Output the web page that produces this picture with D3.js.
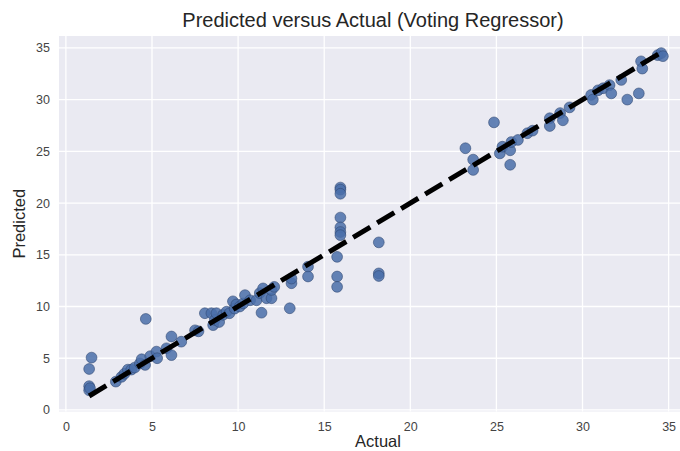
<!DOCTYPE html>
<html>
<head>
  <title>Predicted versus Actual</title>
  <style>
    body { margin: 0; background: #fff; }
    text { font-family: "Liberation Sans", Arial, sans-serif; }
  </style>
</head>
<body>

  <script src="https://cdn.jsdelivr.net/npm/d3@7/dist/d3.min.js" charset="utf-8"></script>
  <script type="text/javascript">

  // values
  var actual = [
    1.49, 1.35, 1.35, 1.35, 1.40, 2.9, 3.23, 3.4, 3.6, 3.8, 4.0, 4.3, 4.4, 4.6, 4.64, 4.9,
    5.26, 5.3, 5.84, 6.13, 6.13, 6.7, 7.5, 7.7, 8.07, 8.45, 8.55, 8.65, 8.74, 8.9,
    9.13, 9.33, 9.5, 9.7, 9.8, 9.9, 10.1, 10.3, 10.4, 10.7, 11.07, 11.26, 11.36, 11.45,
    11.65, 11.94, 11.94, 12.1, 13.0, 13.1, 13.1, 14.06, 14.06,
    15.75, 15.75, 15.75, 15.94, 15.94, 15.94, 15.94, 15.94, 15.94, 15.94,
    18.17, 18.17, 18.17,
    23.2, 23.65, 23.65, 24.86, 25.2, 25.35, 25.8, 25.87, 25.8, 26.25, 26.8, 27.1,
    28.1, 28.1, 28.7, 28.86, 29.25, 30.5, 30.6, 30.9, 31.2, 31.57, 31.67, 32.25,
    32.6, 33.27, 33.4, 33.47, 34.37, 34.57, 34.67
  ];

  var predicted = [
    5.06, 3.96, 2.3, 1.9, 2.1, 2.74, 3.2, 3.5, 3.9, 3.9, 4.1, 4.5, 4.9, 4.35, 8.8, 5.2,
    5.64, 5.0, 5.96, 7.1, 5.3, 6.6, 7.7, 7.6, 9.35, 9.35, 8.2, 8.7, 9.35, 8.5,
    9.2, 9.5, 9.35, 10.5, 9.8, 10.2, 10.0, 10.3, 11.1, 10.6, 10.6, 11.3, 9.4, 11.75,
    10.8, 10.8, 11.6, 11.9, 9.83, 12.25, 12.7, 13.85, 12.9,
    14.8, 12.9, 11.9, 21.5, 21.3, 20.9, 18.6, 17.65, 17.2, 16.9,
    16.2, 13.2, 12.95,
    25.3, 24.2, 23.2, 27.8, 24.8, 25.45, 25.1, 25.9, 23.7, 26.1, 26.75, 27.0,
    28.2, 27.45, 28.7, 28.0, 29.25, 30.45, 30.0, 30.9, 31.1, 31.4, 30.6, 31.9,
    30.0, 30.6, 33.7, 33.0, 34.3, 34.5, 34.2
  ];

  var ticks = [0, 5, 10, 15, 20, 25, 30, 35];

  // note: "top" is taken by window.top, so plot edges get their own names
  var width = 680,
      height = 451,
      pL = 59, pR = 691, pT = 36, pB = 411.5,

      svg = d3.select('body')
              .append('svg')
              .attr('width', width)
              .attr('height', height),

      x = d3.scaleLinear().domain([-0.4, 36.3]).range([pL, pR]),
      y = d3.scaleLinear().domain([-0.15, 36.15]).range([pB, pT]);

  var points = actual.map(function(a, i){ return {a: a, p: predicted[i]} });

  // axes background
  svg.append('rect')
     .attr('x', pL)
     .attr('y', pT)
     .attr('width', pR - pL)
     .attr('height', pB - pT)
     .attr('fill', '#eaeaf2');

  // grid
  svg.selectAll('line.vgrid')
     .data(ticks)
     .enter()
     .append('line')
     .attr('class', 'vgrid')
     .attr('x1', x).attr('x2', x)
     .attr('y1', pT).attr('y2', pB)
     .attr('stroke', '#fff')
     .attr('stroke-width', 1.3);

  svg.selectAll('line.hgrid')
     .data(ticks)
     .enter()
     .append('line')
     .attr('class', 'hgrid')
     .attr('y1', y).attr('y2', y)
     .attr('x1', pL).attr('x2', pR)
     .attr('stroke', '#fff')
     .attr('stroke-width', 1.3);

  // tick labels
  var xAxis = svg.append('g')
     .attr('transform', 'translate(0,' + (pB + 2) + ')')
     .call(d3.axisBottom(x).tickValues(ticks).tickSize(0).tickPadding(9));

  var yAxis = svg.append('g')
     .attr('transform', 'translate(' + (pL - 2) + ',0)')
     .call(d3.axisLeft(y).tickValues(ticks).tickSize(0).tickPadding(7));

  [xAxis, yAxis].forEach(function(g){
    g.select('.domain').remove();
    g.selectAll('text')
     .attr('fill', '#444')
     .style('font-size', '12.5px')
     .style('font-family', '"Liberation Sans", Arial, sans-serif');
  });

  // points
  svg.append('g')
     .selectAll('circle')
     .data(points)
     .enter()
     .append('circle')
     .attr('cx', function(d){ return x(d.a) })
     .attr('cy', function(d){ return y(d.p) })
     .attr('r', 5.4)
     .attr('fill', '#4a6ea9')
     .attr('fill-opacity', 0.85)
     .attr('stroke', '#2e4670')
     .attr('stroke-opacity', 0.7)
     .attr('stroke-width', 0.8);

  // perfect-fit line, min to max of actual
  var ext = d3.extent(actual);

  svg.append('line')
     .attr('x1', x(ext[0])).attr('y1', y(ext[0]))
     .attr('x2', x(ext[1])).attr('y2', y(ext[1]))
     .attr('stroke', '#000')
     .attr('stroke-width', 5)
     .attr('stroke-dasharray', '20,8');

  // labels
  svg.append('text')
     .attr('x', (pL + pR) / 2 - 2)
     .attr('y', 27)
     .attr('text-anchor', 'middle')
     .attr('fill', '#262626')
     .style('font-size', '20px')
     .text('Predicted versus Actual (Voting Regressor)');

  svg.append('text')
     .attr('x', (pL + pR) / 2 + 3)
     .attr('y', 447)
     .attr('text-anchor', 'middle')
     .attr('fill', '#262626')
     .style('font-size', '16.5px')
     .text('Actual');

  svg.append('text')
     .attr('transform', 'translate(25,' + ((pT + pB) / 2) + ') rotate(-90)')
     .attr('text-anchor', 'middle')
     .attr('fill', '#262626')
     .style('font-size', '16.5px')
     .text('Predicted');

  </script>
</body>
</html>
